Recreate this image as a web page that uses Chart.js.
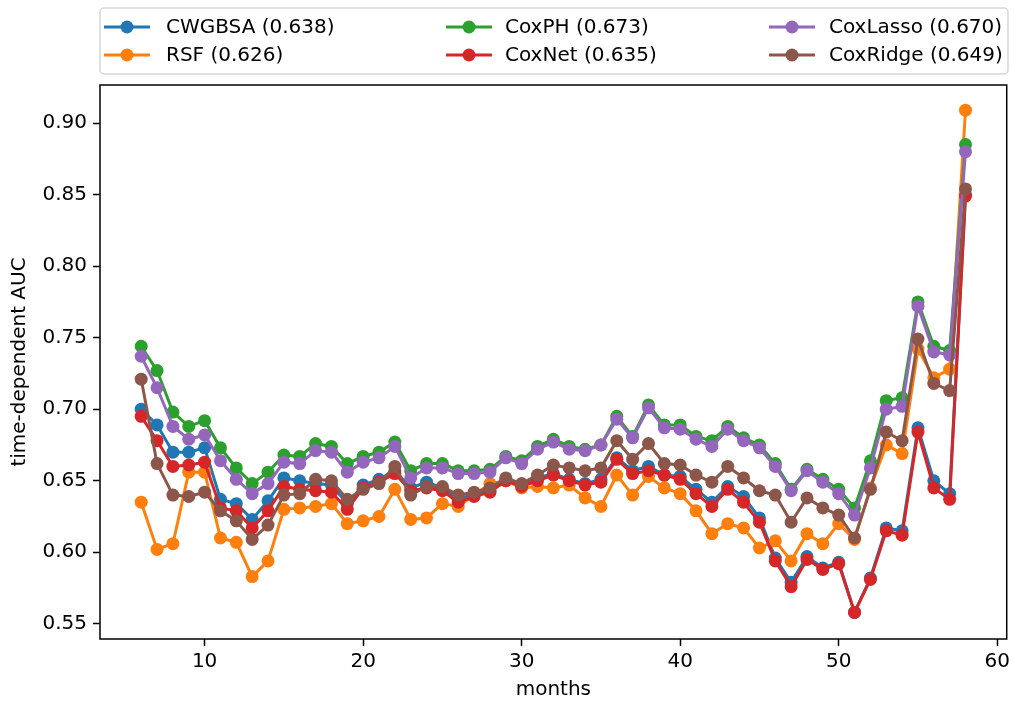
<!DOCTYPE html>
<html>
<head>
<meta charset="utf-8">
<script src="https://cdn.jsdelivr.net/npm/chart.js"></script>
<style>
  html, body { margin: 0; padding: 0; background: #fff; }
</style>
</head>
<body>
<canvas id="aucChart" width="1014" height="702"></canvas>
<script>
'use strict';

// evaluation months
var months = [6, 7, 8, 9, 10, 11, 12, 13, 14, 15, 16, 17, 18, 19, 20, 21, 22, 23, 24, 25,
  26, 27, 28, 29, 30, 31, 32, 33, 34, 35, 36, 37, 38, 39, 40, 41, 42, 43, 44, 45,
  46, 47, 48, 49, 50, 51, 52, 53, 54, 55, 56, 57, 58];

// time-dependent AUC per model
var cwgbsa = [0.700, 0.689, 0.670, 0.670, 0.673, 0.637, 0.634, 0.623, 0.636, 0.652,
  0.650, 0.648, 0.647, 0.634, 0.647, 0.651, 0.657, 0.645, 0.649, 0.645,
  0.637, 0.641, 0.643, 0.651, 0.647, 0.652, 0.655, 0.651, 0.648, 0.651,
  0.666, 0.657, 0.660, 0.654, 0.653, 0.644, 0.635, 0.646, 0.639, 0.624,
  0.596, 0.579, 0.597, 0.589, 0.593, 0.558, 0.582, 0.617, 0.615, 0.687,
  0.650, 0.641, 0.850];
var rsf = [0.635, 0.602, 0.606, 0.656, 0.656, 0.610, 0.607, 0.583, 0.594, 0.630,
  0.631, 0.632, 0.634, 0.620, 0.622, 0.625, 0.644, 0.623, 0.624, 0.634,
  0.632, 0.640, 0.648, 0.650, 0.645, 0.646, 0.645, 0.647, 0.638, 0.632,
  0.654, 0.640, 0.653, 0.645, 0.641, 0.629, 0.613, 0.620, 0.617, 0.603,
  0.608, 0.594, 0.613, 0.606, 0.620, 0.609, 0.645, 0.675, 0.669, 0.742,
  0.722, 0.728, 0.909];
var coxPH = [0.744, 0.727, 0.698, 0.688, 0.692, 0.673, 0.659, 0.648, 0.656, 0.668,
  0.667, 0.676, 0.674, 0.662, 0.667, 0.670, 0.677, 0.657, 0.662, 0.662,
  0.657, 0.657, 0.658, 0.667, 0.664, 0.674, 0.679, 0.674, 0.672, 0.675,
  0.695, 0.681, 0.703, 0.689, 0.689, 0.681, 0.678, 0.688, 0.680, 0.675,
  0.662, 0.644, 0.658, 0.651, 0.644, 0.631, 0.664, 0.706, 0.708, 0.775,
  0.744, 0.741, 0.885];
var coxNet = [0.695, 0.678, 0.660, 0.661, 0.663, 0.631, 0.629, 0.617, 0.629, 0.646,
  0.644, 0.643, 0.642, 0.630, 0.645, 0.649, 0.655, 0.643, 0.645, 0.643,
  0.635, 0.639, 0.642, 0.650, 0.646, 0.650, 0.654, 0.650, 0.647, 0.649,
  0.665, 0.655, 0.657, 0.654, 0.651, 0.641, 0.632, 0.644, 0.635, 0.621,
  0.594, 0.576, 0.595, 0.588, 0.592, 0.558, 0.581, 0.615, 0.612, 0.684,
  0.645, 0.637, 0.849];
var coxLasso = [0.737, 0.715, 0.688, 0.679, 0.682, 0.664, 0.651, 0.641, 0.648, 0.663,
  0.662, 0.671, 0.670, 0.656, 0.663, 0.666, 0.674, 0.652, 0.659, 0.659,
  0.655, 0.655, 0.656, 0.666, 0.662, 0.672, 0.677, 0.672, 0.671, 0.675,
  0.693, 0.680, 0.701, 0.687, 0.686, 0.679, 0.674, 0.686, 0.678, 0.673,
  0.660, 0.643, 0.657, 0.649, 0.641, 0.626, 0.659, 0.700, 0.702, 0.772,
  0.740, 0.738, 0.880];
var coxRidge = [0.721, 0.662, 0.640, 0.639, 0.642, 0.629, 0.622, 0.609, 0.619, 0.640,
  0.641, 0.651, 0.650, 0.637, 0.644, 0.648, 0.660, 0.640, 0.646, 0.646,
  0.640, 0.642, 0.645, 0.652, 0.648, 0.654, 0.661, 0.659, 0.657, 0.659,
  0.678, 0.665, 0.676, 0.662, 0.661, 0.654, 0.649, 0.660, 0.652, 0.643,
  0.640, 0.621, 0.638, 0.631, 0.626, 0.610, 0.644, 0.684, 0.678, 0.749,
  0.718, 0.713, 0.854];

var modelNames = ['CWGBSA (0.638)', 'RSF (0.626)', 'CoxPH (0.673)', 'CoxNet (0.635)', 'CoxLasso (0.670)', 'CoxRidge (0.649)'];
var modelValues = [cwgbsa, rsf, coxPH, coxNet, coxLasso, coxRidge];
var modelColors = ['#1f77b4', '#ff7f0e', '#2ca02c', '#d62728', '#9467bd', '#8c564b'];

var xTicks = [10, 20, 30, 40, 50, 60];
var yTicks = [0.55, 0.60, 0.65, 0.70, 0.75, 0.80, 0.85, 0.90];

var FONT = '"DejaVu Sans", sans-serif';

var datasets = [];
for (var i = 0; i < modelNames.length; i++) {
  var pts = [];
  for (var j = 0; j < months.length; j++) {
    pts.push({ x: months[j], y: modelValues[i][j] });
  }
  datasets.push({
    label: modelNames[i],
    data: pts,
    borderColor: modelColors[i],
    backgroundColor: modelColors[i],
    borderWidth: 3,
    pointRadius: 6.5,
    pointBorderWidth: 0,
    pointHoverRadius: 6.5,
    tension: 0,
    // later models sit on top
    order: modelNames.length - i
  });
}

// frame around the plot area
var framePlugin = {
  id: 'frame',
  afterDraw: function (chart) {
    var a = chart.chartArea;
    var c = chart.ctx;
    c.save();
    c.strokeStyle = '#000';
    c.lineWidth = 1.5;
    c.strokeRect(a.left, a.top, a.right - a.left, a.bottom - a.top);
    c.restore();
  }
};

// three column legend above the axes
var legendPlugin = {
  id: 'topLegend',
  afterDraw: function (chart) {
    var c = chart.ctx;
    var left = 100, top = 8, right = 1008, bottom = 74, r = 4;
    c.save();
    c.beginPath();
    c.moveTo(left + r, top);
    c.arcTo(right, top, right, bottom, r);
    c.arcTo(right, bottom, left, bottom, r);
    c.arcTo(left, bottom, left, top, r);
    c.arcTo(left, top, right, top, r);
    c.closePath();
    c.fillStyle = 'rgba(255,255,255,0.8)';
    c.fill();
    c.strokeStyle = 'rgba(204,204,204,0.8)';
    c.lineWidth = 1.5;
    c.stroke();

    var handleX = [104, 446, 769];
    var textX = [166, 505, 829];
    var rowY = [27, 55];
    c.font = '20px ' + FONT;
    c.textBaseline = 'middle';
    c.textAlign = 'left';
    for (var k = 0; k < modelNames.length; k++) {
      var col = Math.floor(k / 2);
      var row = k % 2;
      var x0 = handleX[col];
      var y0 = rowY[row];
      c.strokeStyle = modelColors[k];
      c.lineWidth = 3;
      c.beginPath();
      c.moveTo(x0, y0);
      c.lineTo(x0 + 46, y0);
      c.stroke();
      c.fillStyle = modelColors[k];
      c.beginPath();
      c.arc(x0 + 23, y0, 6.5, 0, Math.PI * 2);
      c.fill();
      c.fillStyle = '#000';
      c.fillText(modelNames[k], textX[col], y0 + 1);
    }
    c.restore();
  }
};

var ctx = document.getElementById('aucChart').getContext('2d');
var chart = new Chart(ctx, {
  type: 'line',
  data: { datasets: datasets },
  options: {
    responsive: false,
    animation: false,
    devicePixelRatio: 1,
    layout: { padding: { top: 85, right: 6, bottom: 0, left: 0 } },
    plugins: {
      legend: { display: false },
      tooltip: { enabled: false }
    },
    scales: {
      x: {
        type: 'linear',
        min: 3.4,
        max: 60.6,
        afterBuildTicks: function (scale) {
          scale.ticks = xTicks.map(function (v) { return { value: v }; });
        },
        afterFit: function (scale) { scale.height = 63; },
        grid: { display: true, drawOnChartArea: false, drawTicks: true, tickLength: 7, tickColor: '#000', tickWidth: 1.5 },
        border: { display: false },
        ticks: {
          color: '#000',
          font: { family: FONT, size: 20 },
          padding: 4,
          maxRotation: 0,
          callback: function (v) { return String(v); }
        },
        title: {
          display: true,
          text: 'months',
          color: '#000',
          font: { family: FONT, size: 20 },
          padding: { top: 0, bottom: 0 }
        }
      },
      y: {
        type: 'linear',
        min: 0.5394,
        max: 0.9266,
        afterBuildTicks: function (scale) {
          scale.ticks = yTicks.map(function (v) { return { value: v }; });
        },
        afterFit: function (scale) { scale.width = 100; },
        grid: { display: true, drawOnChartArea: false, drawTicks: true, tickLength: 7, tickColor: '#000', tickWidth: 1.5 },
        border: { display: false },
        ticks: {
          color: '#000',
          font: { family: FONT, size: 20 },
          padding: 6,
          callback: function (v) { return v.toFixed(2); }
        },
        title: {
          display: true,
          text: 'time-dependent AUC',
          color: '#000',
          font: { family: FONT, size: 20 },
          padding: { top: 8, bottom: 0 }
        }
      }
    }
  },
  plugins: [framePlugin, legendPlugin]
});
</script>
</body>
</html>
